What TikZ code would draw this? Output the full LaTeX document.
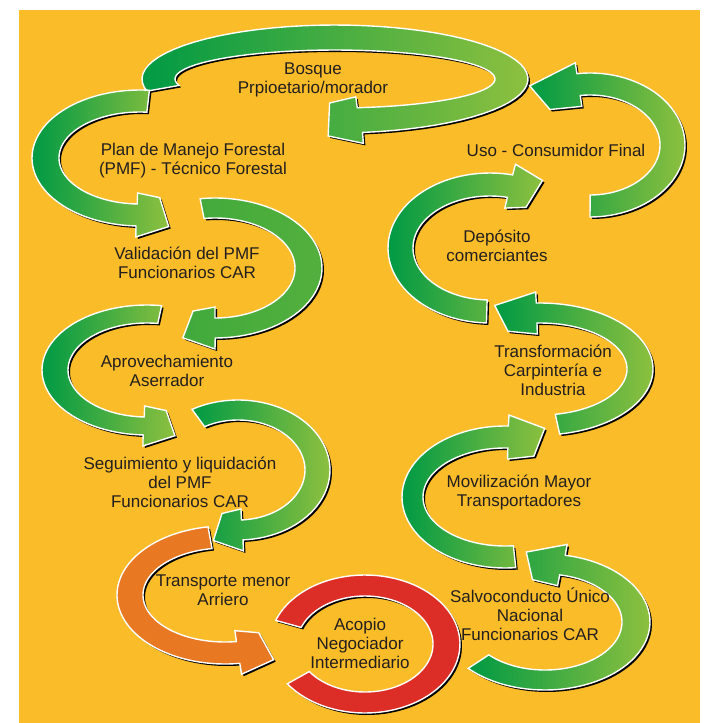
\documentclass[tikz,border=0pt]{standalone}
\usepackage{fontspec}
\setmainfont{Liberation Sans}
\definecolor{bgyellow}{RGB}{250,188,40}
\definecolor{gdark}{RGB}{0,154,68}
\definecolor{gmid}{RGB}{64,170,60}
\definecolor{glight}{RGB}{141,192,63}
\definecolor{orangeflow}{RGB}{232,120,34}
\definecolor{redflow}{RGB}{220,45,38}
\definecolor{txt}{RGB}{35,31,32}

% curved arrow: centre, outer rx, outer ry, inner rx, inner ry, tail, head base, head front, style
\newcommand{\ringarrow}[9]{%
	\def\rpath{plot[variable=\t,domain=0:1,samples=60] ({#2*cos(#6+(#7-#6)*\t)},{#3*sin(#6+(#7-#6)*\t)})
		-- ({(#2+11)*cos(#7)},{(#3+11)*sin(#7)}) -- ({(#2+3)*cos(#8)},{(#3+3)*sin(#8)})
		-- ({(#4-5)*cos(#8)},{(#5-5)*sin(#8)}) -- ({(#4-11)*cos(#7)},{(#5-11)*sin(#7)})
		-- plot[variable=\t,domain=0:1,samples=60] ({#4*cos(#7+(#6-#7)*\t)},{#5*sin(#7+(#6-#7)*\t)}) -- cycle}%
	\begin{scope}[shift={(#1)}]
		\fill[arrowshadow] \rpath;
		\path[#9, draw=white, line width=0.7pt] \rpath;
	\end{scope}}
% open ring without head
\newcommand{\ringband}[8]{%
	\def\rpath{plot[variable=\t,domain=0:1,samples=80] ({#2*cos(#6+(#7-#6)*\t)},{#3*sin(#6+(#7-#6)*\t)})
		-- plot[variable=\t,domain=0:1,samples=80] ({#4*cos(#7+(#6-#7)*\t)},{#5*sin(#7+(#6-#7)*\t)}) -- cycle}%
	\begin{scope}[shift={(#1)}]
		\fill[arrowshadow] \rpath;
		\path[#8, draw=white, line width=0.7pt] \rpath;
	\end{scope}}

\begin{document}
\begin{tikzpicture}[x=0.5pt,y=-0.5pt]
	\tikzstyle{stage} = [align=center, text=txt, inner sep=0pt, font=\fontsize{8.5}{9.5}\selectfont]
	\tikzstyle{arrowshadow} = [fill=black, shift={(2,2)}]
	\tikzstyle{greenflow} = [left color=gdark, right color=glight]
	\tikzstyle{midflow} = [left color=gmid, right color=gmid!75!glight]

	\useasboundingbox (0,0) rectangle (708,723);
	\fill[bgyellow] (19,10) rectangle (700,723);

	\coordinate (cBosque) at (335,79);
	\coordinate (cPlan) at (140,158);
	\coordinate (cValid) at (215,268);
	\coordinate (cAprov) at (147,370);
	\coordinate (cSegui) at (238,470);
	\coordinate (cTransp) at (225,595);
	\coordinate (cAcopio) at (365,644);
	\coordinate (cUso) at (590,145);
	\coordinate (cDepo) at (490,248);
	\coordinate (cTransf) at (540,369);
	\coordinate (cMovil) at (505,497);
	\coordinate (cSalvo) at (545,622);

	\ringarrow{cBosque}{193}{54}{160}{29}{167}{442}{452}{greenflow}
	\ringarrow{cPlan}{108}{68}{81}{46}{275}{92}{75}{greenflow}
	\ringarrow{cValid}{107}{70}{80}{50}{262}{450}{467}{midflow}
	\ringarrow{cAprov}{105}{65}{79}{47}{278}{92}{75}{greenflow}
	\ringarrow{cSegui}{92}{70}{67}{50}{240}{447}{465}{greenflow}
	\ringarrow{cTransp}{108}{69}{82}{47}{261}{82}{64}{fill=orangeflow}
	\ringband{cAcopio}{95}{69}{68}{48}{200}{505}{fill=redflow}
	\ringarrow{cUso}{95}{72}{70}{50}{90}{-98}{-128}{greenflow}
	\ringarrow{cDepo}{102}{75}{77}{52}{92}{283}{300}{greenflow}
	\ringarrow{cTransf}{113}{66}{87}{46}{80}{-92}{-113}{greenflow}
	\ringarrow{cMovil}{103}{71}{82}{49}{84}{272}{292}{greenflow}
	\ringarrow{cSalvo}{105}{68}{77}{48}{137}{-79}{-100}{greenflow}

	\node[stage] (bosque) at (313,80) {Bosque\\Prpioetario/morador};
	\node[stage] (plan) at (193,161) {Plan de Manejo Forestal\\(PMF) - Técnico Forestal};
	\node[stage] (valid) at (187,263) {Validación del PMF\\Funcionarios CAR};
	\node[stage] (aprov) at (167,371) {Aprovechamiento\\Aserrador};
	\node[stage] (segui) at (180,482) {Seguimiento y liquidación\\del PMF\\Funcionarios CAR};
	\node[stage] (transp) at (223,590) {Transporte menor\\Arriero};
	\node[stage] (acopio) at (360,643) {Acopio\\Negociador\\Intermediario};
	\node[stage] (uso) at (556,150) {Uso - Consumidor Final};
	\node[stage] (depo) at (497,246) {Depósito\\comerciantes};
	\node[stage] (transf) at (553,370) {Transformación\\Carpintería e\\Industria};
	\node[stage] (movil) at (519,492) {Movilización Mayor\\Transportadores};
	\node[stage] (salvo) at (530,614) {Salvoconducto Único\\Nacional\\Funcionarios CAR};
\end{tikzpicture}
\end{document}
